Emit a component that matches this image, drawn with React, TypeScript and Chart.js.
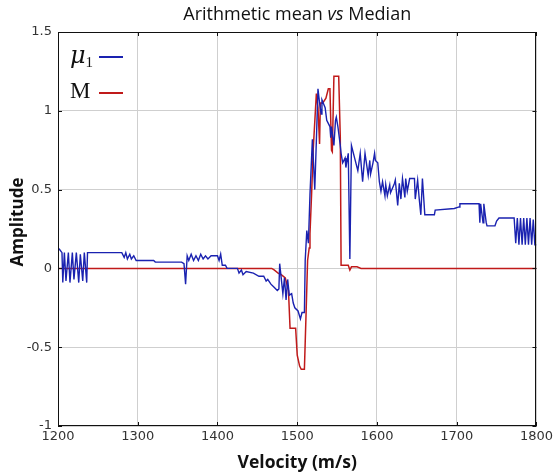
import { useEffect, useRef } from "react";
import { Chart, registerables } from "chart.js";

Chart.register(...registerables);

// Arithmetic mean (mu_1) series
const muVelocity = [
  1200, 1202, 1205, 1206, 1208, 1210, 1213, 1215, 1218, 1220, 1223, 1226, 1228, 1231, 1233, 1236, 1237,
  1280, 1283, 1285, 1287, 1290, 1292, 1295, 1298, 1320, 1322, 1355, 1358, 1360, 1362, 1364, 1367, 1370,
  1373, 1376, 1379, 1382, 1385, 1388, 1392, 1400, 1402, 1404, 1406, 1410, 1412, 1425, 1427, 1430, 1432,
  1436, 1445, 1452, 1458, 1461, 1463, 1467, 1471, 1475, 1477, 1478, 1482, 1484, 1486, 1488, 1490, 1493,
  1495, 1497, 1501, 1504, 1506, 1509, 1510, 1512, 1514, 1516, 1519, 1522, 1524, 1526, 1528, 1530, 1531,
  1535, 1537, 1541, 1542, 1543, 1546, 1548, 1549, 1551, 1554, 1555, 1557, 1560, 1561, 1564, 1566, 1568,
  1572, 1576, 1579, 1582, 1585, 1589, 1591, 1592, 1595, 1597, 1598, 1601, 1603, 1605, 1607, 1610, 1611,
  1613, 1616, 1617, 1622, 1623, 1626, 1628, 1630, 1632, 1635, 1636, 1638, 1641, 1647, 1648, 1651, 1653,
  1655, 1657, 1660, 1672, 1673, 1697, 1703, 1704, 1728, 1729, 1730, 1733, 1734, 1737, 1738, 1748, 1750,
  1753, 1772, 1774, 1776, 1778, 1780, 1782, 1784, 1786, 1788, 1790, 1792, 1794, 1796, 1798, 1800,
];
const muAmplitude = [
  0.13, 0.12, 0.1, -0.09, 0.1, -0.08, 0.1, -0.09, 0.1, -0.07, 0.1, -0.09, 0.09, -0.08, 0.1, -0.09, 0.1,
  0.1, 0.07, 0.1, 0.06, 0.09, 0.06, 0.08, 0.05, 0.05, 0.04, 0.04, 0.03, -0.1, 0.08, 0.05, 0.09, 0.05,
  0.08, 0.05, 0.09, 0.06, 0.08, 0.06, 0.08, 0.08, 0.05, 0.09, 0.02, 0.02, 0.0, 0.0, -0.03, -0.01, -0.04,
  -0.02, -0.03, -0.05, -0.05, -0.08, -0.07, -0.1, -0.12, -0.14, -0.13, 0.03, -0.16, -0.06, -0.2, -0.07, -0.17, -0.16,
  -0.22, -0.25, -0.27, -0.32, -0.28, -0.28, 0.05, 0.24, 0.16, 0.47, 0.82, 0.5, 0.81, 1.14, 1.05, 0.98, 1.07,
  1.02, 0.94, 0.9, 0.83, 0.9, 0.78, 0.94, 0.96, 0.9, 0.78, 0.73, 0.67, 0.7, 0.64, 0.73, 0.06, 0.78,
  0.7, 0.62, 0.73, 0.55, 0.73, 0.59, 0.685, 0.6, 0.67, 0.73, 0.685, 0.67, 0.55, 0.49, 0.55, 0.46, 0.53,
  0.46, 0.53, 0.48, 0.54, 0.56, 0.4, 0.54, 0.44, 0.57, 0.45, 0.57, 0.49, 0.57, 0.57, 0.44, 0.56, 0.44,
  0.34, 0.57, 0.34, 0.34, 0.37, 0.38, 0.39, 0.41, 0.41, 0.29, 0.41, 0.29, 0.41, 0.29, 0.27, 0.27, 0.3,
  0.32, 0.32, 0.16, 0.32, 0.15, 0.32, 0.15, 0.32, 0.15, 0.32, 0.15, 0.32, 0.15, 0.31, 0.15, 0.15,
];

// Median (M) series
const medianVelocity = [
  1200, 1468, 1471, 1476, 1480, 1485, 1489, 1491, 1498, 1500, 1503, 1505, 1509, 1511, 1513, 1515, 1516,
  1518, 1520, 1523, 1524, 1526, 1528, 1529, 1532, 1536, 1539, 1541, 1543, 1544, 1546, 1552, 1554, 1555,
  1564, 1566, 1568, 1575, 1580, 1800,
];
const medianAmplitude = [
  0, 0, -0.01, -0.03, -0.04, -0.06, -0.14, -0.38, -0.38, -0.55, -0.62, -0.64, -0.64, -0.3, 0.05, 0.13, 0.22,
  0.47, 0.75, 1.02, 1.11, 1.02, 0.79, 1.05, 1.05, 1.08, 1.14, 1.14, 0.75, 0.74, 1.22, 1.22, 0.83, 0.02,
  0.02, -0.01, 0.01, 0.01, 0.0, 0.0,
];

const xTickValues = [1200, 1300, 1400, 1500, 1600, 1700, 1800];
const yTickValues = [-1, -0.5, 0, 0.5, 1, 1.5];
const titleParts = ["Arithmetic mean ", "vs", " Median"];
const xAxisTitle = "Velocity (m/s)";
const yAxisTitle = "Amplitude";
const legendSymbols = ["\u03bc", "M"];

const BLUE = "#1a22b0";
const RED = "#c01a1a";

const decorPlugin = {
  id: "decor",
  afterDraw(chart: any) {
    const ctx = chart.ctx as CanvasRenderingContext2D;
    const area = chart.chartArea;
    const xs = chart.scales.x;
    const ys = chart.scales.y;
    ctx.save();
    // frame
    ctx.strokeStyle = "#111";
    ctx.lineWidth = 1;
    ctx.strokeRect(Math.round(area.left) + 0.5, Math.round(area.top) + 0.5, Math.round(area.right - area.left) - 1, Math.round(area.bottom - area.top) - 1);
    // inner ticks
    ctx.beginPath();
    const tl = 4;
    xTickValues.forEach((v) => {
      const px = Math.round(xs.getPixelForValue(v)) + 0.5;
      ctx.moveTo(px, area.top);
      ctx.lineTo(px, area.top + tl);
      ctx.moveTo(px, area.bottom);
      ctx.lineTo(px, area.bottom - tl);
    });
    yTickValues.forEach((v) => {
      const py = Math.round(ys.getPixelForValue(v)) + 0.5;
      ctx.moveTo(area.left, py);
      ctx.lineTo(area.left + tl, py);
      ctx.moveTo(area.right, py);
      ctx.lineTo(area.right - tl, py);
    });
    ctx.stroke();

    // title
    const cx = (area.left + area.right) / 2;
    const normal = "18px 'Open Sans'";
    const italic = "italic 18px 'Open Sans'";
    ctx.fillStyle = "#111";
    ctx.textBaseline = "middle";
    ctx.font = normal;
    const w0 = ctx.measureText(titleParts[0]).width;
    const w2 = ctx.measureText(titleParts[2]).width;
    ctx.font = italic;
    const w1 = ctx.measureText(titleParts[1]).width;
    let tx = cx - (w0 + w1 + w2) / 2;
    const ty = 15;
    ctx.textAlign = "left";
    ctx.font = normal;
    ctx.fillText(titleParts[0], tx, ty);
    tx += w0;
    ctx.font = italic;
    ctx.fillText(titleParts[1], tx, ty);
    tx += w1;
    ctx.font = normal;
    ctx.fillText(titleParts[2], tx, ty);

    // axis titles
    ctx.font = "bold 17.5px 'Open Sans'";
    ctx.textAlign = "center";
    ctx.fillText(xAxisTitle, cx, 463);
    ctx.save();
    ctx.translate(18, 222);
    ctx.rotate(-Math.PI / 2);
    ctx.font = "bold 17px 'Open Sans'";
    ctx.fillText(yAxisTitle, 0, 0);
    ctx.restore();

    // legend
    ctx.textAlign = "left";
    ctx.textBaseline = "alphabetic";
    ctx.font = "italic 24px 'DejaVu Serif'";
    ctx.fillText(legendSymbols[0], 70, 63);
    const mw = ctx.measureText(legendSymbols[0]).width;
    ctx.font = "15px 'Liberation Serif'";
    ctx.fillText("1", 70 + mw, 67);
    ctx.font = "23px 'Liberation Serif'";
    ctx.fillText(legendSymbols[1], 70, 98);
    ctx.lineWidth = 2;
    ctx.strokeStyle = BLUE;
    ctx.beginPath();
    ctx.moveTo(99, 57);
    ctx.lineTo(123, 57);
    ctx.stroke();
    ctx.strokeStyle = RED;
    ctx.beginPath();
    ctx.moveTo(99, 93);
    ctx.lineTo(123, 93);
    ctx.stroke();
    ctx.restore();
  },
};

export default function App() {
  const canvasRef = useRef<HTMLCanvasElement | null>(null);

  useEffect(() => {
    document.body.style.margin = "0";
    const canvas = canvasRef.current;
    if (!canvas) return;
    const chart = new Chart(canvas, {
      type: "line",
      data: {
        datasets: [
          {
            label: "mu1",
            data: muVelocity.map((v, i) => ({ x: v, y: muAmplitude[i] })),
            borderColor: BLUE,
            borderWidth: 1.4,
            pointRadius: 0,
            tension: 0,
          },
          {
            label: "M",
            data: medianVelocity.map((v, i) => ({ x: v, y: medianAmplitude[i] })),
            borderColor: RED,
            borderWidth: 1.5,
            pointRadius: 0,
            tension: 0,
          },
        ],
      },
      options: {
        animation: false,
        responsive: false,
        maintainAspectRatio: false,
        layout: { padding: { top: 32, right: 16, left: 0, bottom: 0 } },
        plugins: {
          legend: { display: false },
          title: { display: false },
          tooltip: { enabled: false },
        },
        scales: {
          x: {
            type: "linear",
            min: 1200,
            max: 1800,
            afterFit: (s: any) => {
              s.height = 48;
            },
            afterBuildTicks: (s: any) => {
              s.ticks = xTickValues.map((v) => ({ value: v }));
            },
            ticks: {
              callback: (v: any) => String(v),
              color: "#333",
              font: { family: "'DejaVu Sans'", size: 13 },
              padding: 3,
              maxRotation: 0,
            },
            grid: { color: "#cfcfcf", lineWidth: 1, drawTicks: false },
            border: { display: false },
          },
          y: {
            type: "linear",
            min: -1,
            max: 1.5,
            afterFit: (s: any) => {
              s.width = 58;
            },
            afterBuildTicks: (s: any) => {
              s.ticks = yTickValues.map((v) => ({ value: v }));
            },
            ticks: {
              callback: (v: any) => String(v),
              color: "#333",
              font: { family: "'DejaVu Sans'", size: 13 },
              padding: 6,
            },
            grid: { color: "#cfcfcf", lineWidth: 1, drawTicks: false },
            border: { display: false },
          },
        },
      },
      plugins: [decorPlugin],
    });
    return () => chart.destroy();
  }, []);

  return (
    <div style={{ width: 556, height: 474, background: "#fff" }}>
      <canvas ref={canvasRef} width={556} height={474} style={{ display: "block" }} />
    </div>
  );
}
